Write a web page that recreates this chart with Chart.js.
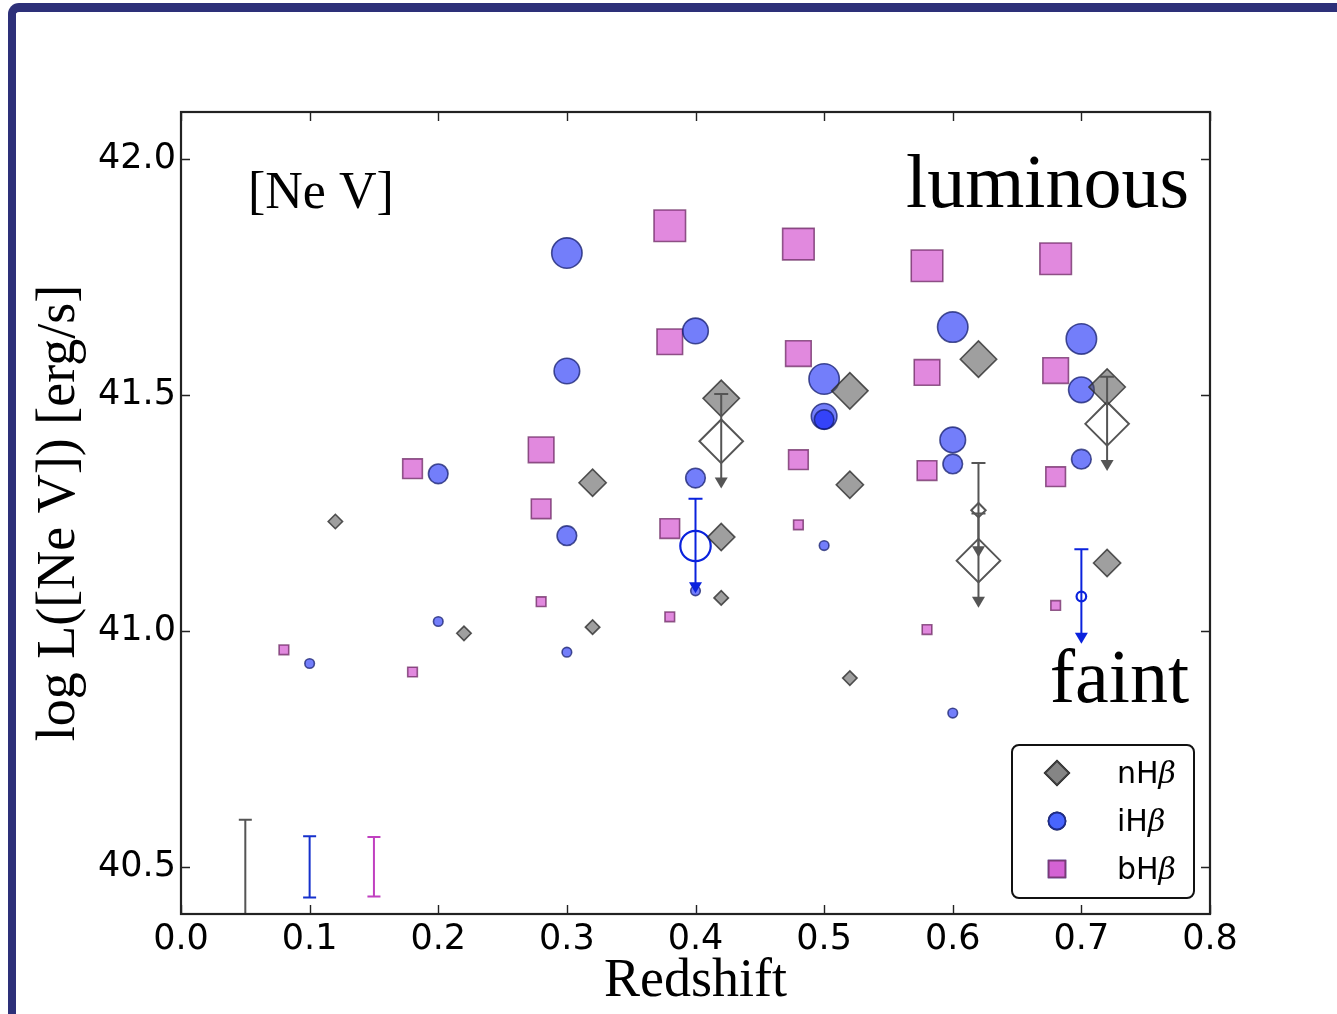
<!DOCTYPE html>
<html>
<head>
<meta charset="utf-8">
<title>[Ne V] luminosity vs redshift</title>
<script src="https://cdn.jsdelivr.net/npm/chart.js@4.4.1/dist/chart.umd.min.js"></script>
<style>
  html, body { margin: 0; padding: 0; background: #fff; overflow: hidden; }
  #frame {
    position: absolute; left: 8px; top: 3px; width: 1400px; height: 1100px;
    border-left: 8px solid #2d3079; border-top: 9px solid #2d3079;
    border-top-left-radius: 11px;
  }
  #chart { position: absolute; left: 0; top: 0; }
</style>
</head>
<body>
<div id="frame"></div>
<canvas id="chart" width="1337" height="1014"></canvas>
<script>
// values
const xTicks = [0.0, 0.1, 0.2, 0.3, 0.4, 0.5, 0.6, 0.7, 0.8];
const yTicks = [40.5, 41.0, 41.5, 42.0];

// nHb, detections (class = marker size bin 1..4)
const nhbZ = [0.12, 0.22, 0.32, 0.32, 0.42, 0.42, 0.42, 0.52, 0.52, 0.52, 0.62, 0.72, 0.72];
const nhbL = [41.232, 40.995, 41.314, 41.008, 41.493, 41.199, 41.07, 41.509, 41.31, 40.90, 41.576, 41.517, 41.144];
const nhbClass = [1, 1, 2, 1, 3, 2, 1, 3, 2, 1, 3, 3, 2];
// nHb, upper limits
const nhbLimZ = [0.42, 0.62, 0.62, 0.72];
const nhbLimL = [41.402, 41.149, 41.256, 41.439];
const nhbLimClass = [4, 4, 1, 4];

// iHb, detections
const ihbZ = [0.1, 0.2, 0.2, 0.3, 0.3, 0.3, 0.3, 0.4, 0.4, 0.4, 0.5, 0.5, 0.5, 0.5, 0.6, 0.6, 0.6, 0.6, 0.7, 0.7, 0.7];
const ihbL = [40.931, 41.333, 41.02, 41.801, 41.551, 41.202, 40.955, 41.636, 41.324, 41.085, 41.534, 41.455, 41.448, 41.181, 41.644, 41.405, 41.354, 40.826, 41.619, 41.511, 41.364];
const ihbClass = [1, 2, 1, 4, 3, 2, 1, 3, 2, 1, 4, 3, 2, 1, 4, 3, 2, 1, 4, 3, 2];
// iHb, upper limits
const ihbLimZ = [0.4, 0.7];
const ihbLimL = [41.18, 41.073];
const ihbLimClass = [4, 1];

// bHb, detections
const bhbZ = [0.08, 0.18, 0.18, 0.28, 0.28, 0.28, 0.38, 0.38, 0.38, 0.38, 0.48, 0.48, 0.48, 0.48, 0.58, 0.58, 0.58, 0.58, 0.68, 0.68, 0.68, 0.68];
const bhbL = [40.96, 41.344, 40.913, 41.384, 41.259, 41.062, 41.859, 41.613, 41.217, 41.03, 41.82, 41.588, 41.363, 41.225, 41.774, 41.548, 41.34, 41.003, 41.789, 41.552, 41.327, 41.054];
const bhbClass = [1, 2, 1, 3, 2, 1, 4, 3, 2, 1, 4, 3, 2, 1, 4, 3, 2, 1, 4, 3, 2, 1];

// typical errors shown bottom left (nHb, iHb, bHb)
const errZ = [0.05, 0.10, 0.15];
const errL = [40.40, 40.50, 40.50];
const errSize = [0.20, 0.065, 0.063];
const limitDrop = 0.1; // dex, length of the upper-limit bars

// marker radii per size class
const CIRCLE_R = [0, 4.8, 9.8, 12.8, 15.2];
const DIAMOND_R = [0, 7.2, 13.6, 18.2, 21.8];
const SQUARE_R = [0, 6.8, 13.9, 18.1, 22.3];

const toPoints = (xs, ys) => xs.map((x, i) => ({ x: x, y: ys[i] }));
const sized = (map, cls) => c => map[cls[c.dataIndex]];

const datasets = [
  {
    label: 'nH\u03b2', data: toPoints(nhbZ, nhbL),
    pointStyle: 'rectRot', pointRadius: sized(DIAMOND_R, nhbClass),
    backgroundColor: 'rgba(80,80,80,0.55)', borderColor: 'rgba(45,45,45,0.8)', borderWidth: 1.6,
    legendFill: '#858585', legendStroke: '#3d3d3d'
  },
  {
    label: 'iH\u03b2', data: toPoints(ihbZ, ihbL),
    pointStyle: 'circle', pointRadius: sized(CIRCLE_R, ihbClass),
    backgroundColor: 'rgba(0,20,245,0.55)', borderColor: 'rgba(20,30,110,0.75)', borderWidth: 1.6,
    legendFill: '#4865ff', legendStroke: '#1d2b8a'
  },
  {
    label: 'bH\u03b2', data: toPoints(bhbZ, bhbL),
    pointStyle: 'rect', pointRadius: sized(SQUARE_R, bhbClass),
    backgroundColor: 'rgba(200,40,195,0.55)', borderColor: 'rgba(100,30,90,0.7)', borderWidth: 1.6,
    legendFill: '#d462d4', legendStroke: '#7a3a78'
  },
  {
    label: 'nHb limits', data: toPoints(nhbLimZ, nhbLimL), upperLimit: true,
    pointStyle: 'rectRot', pointRadius: sized(DIAMOND_R, nhbLimClass),
    backgroundColor: 'rgba(0,0,0,0)', borderColor: '#555555', borderWidth: 2,
    barColor: '#555555'
  },
  {
    label: 'iHb limits', data: toPoints(ihbLimZ, ihbLimL), upperLimit: true,
    pointStyle: 'circle', pointRadius: sized(CIRCLE_R, ihbLimClass),
    backgroundColor: 'rgba(0,0,0,0)', borderColor: '#0a22dd', borderWidth: 2.2,
    barColor: '#0a22dd'
  },
  {
    label: 'typical errors', data: toPoints(errZ, errL), errors: errSize,
    pointRadius: 0, barColors: ['#555555', '#1530cc', '#c040c0']
  }
];

// error bars, upper-limit arrows
const errorBars = {
  id: 'errorBars',
  afterDatasetsDraw(chart) {
    const { ctx, chartArea: a, scales: { x, y } } = chart;
    ctx.save();
    ctx.beginPath();
    ctx.rect(a.left, a.top, a.right - a.left, a.bottom - a.top);
    ctx.clip();
    chart.data.datasets.forEach(ds => {
      if (ds.upperLimit) {
        ctx.strokeStyle = ds.barColor;
        ctx.fillStyle = ds.barColor;
        ctx.lineWidth = 2;
        ds.data.forEach(p => {
          const px = x.getPixelForValue(p.x);
          const top = y.getPixelForValue(p.y + limitDrop);
          const tip = y.getPixelForValue(p.y - limitDrop);
          ctx.beginPath();
          ctx.moveTo(px, top); ctx.lineTo(px, tip - 8);
          ctx.moveTo(px - 7, top); ctx.lineTo(px + 7, top);
          ctx.stroke();
          ctx.beginPath();
          ctx.moveTo(px - 6.5, tip - 11); ctx.lineTo(px + 6.5, tip - 11); ctx.lineTo(px, tip);
          ctx.closePath();
          ctx.fill();
        });
      } else if (ds.errors) {
        ctx.lineWidth = 2;
        ds.data.forEach((p, i) => {
          const px = x.getPixelForValue(p.x);
          const hi = y.getPixelForValue(p.y + ds.errors[i]);
          const lo = y.getPixelForValue(p.y - ds.errors[i]);
          ctx.strokeStyle = ds.barColors[i];
          ctx.beginPath();
          ctx.moveTo(px, hi); ctx.lineTo(px, lo);
          ctx.moveTo(px - 6.5, hi); ctx.lineTo(px + 6.5, hi);
          ctx.moveTo(px - 6.5, lo); ctx.lineTo(px + 6.5, lo);
          ctx.stroke();
        });
      }
    });
    ctx.restore();
  }
};

// box, inward ticks on all four sides, text labels, boxed legend
const decorations = {
  id: 'decorations',
  afterDraw(chart) {
    const { ctx, chartArea: a, scales: { x, y } } = chart;
    ctx.save();
    ctx.strokeStyle = '#222';
    ctx.lineWidth = 1.4;
    ctx.beginPath();
    x.ticks.forEach(t => {
      const px = Math.round(x.getPixelForValue(t.value)) + 0.5;
      ctx.moveTo(px, a.bottom); ctx.lineTo(px, a.bottom - 9);
      ctx.moveTo(px, a.top); ctx.lineTo(px, a.top + 9);
    });
    y.ticks.forEach(t => {
      const py = Math.round(y.getPixelForValue(t.value)) + 0.5;
      ctx.moveTo(a.left, py); ctx.lineTo(a.left + 9, py);
      ctx.moveTo(a.right, py); ctx.lineTo(a.right - 9, py);
    });
    ctx.stroke();
    ctx.lineWidth = 2.2;
    ctx.strokeRect(a.left, a.top, a.right - a.left, a.bottom - a.top);

    // annotations
    ctx.fillStyle = '#000';
    ctx.textBaseline = 'alphabetic';
    ctx.font = '52px "Liberation Serif"';
    ctx.textAlign = 'left';
    ctx.fillText('[Ne V]', a.left + 67, a.top + 96);
    ctx.font = '76px "Liberation Serif"';
    ctx.textAlign = 'right';
    ctx.fillText('luminous', a.right - 21, a.top + 95);
    ctx.fillText('faint', a.right - 21, a.top + 590);

    // legend
    const bx = a.right - 198, by = a.bottom - 169, bw = 182, bh = 153;
    ctx.fillStyle = '#fff';
    ctx.strokeStyle = '#111';
    ctx.lineWidth = 2;
    ctx.beginPath();
    ctx.roundRect(bx, by, bw, bh, 7);
    ctx.fill();
    ctx.stroke();
    const legendR = { rectRot: 12, circle: 8.5, rect: 11.8 };
    chart.data.datasets.slice(0, 3).forEach((ds, i) => {
      const cy = by + 28 + i * 48;
      const cx = bx + 45;
      Chart.helpers.drawPoint(ctx, {
        pointStyle: ds.pointStyle, radius: legendR[ds.pointStyle], rotation: 0, borderWidth: 1.8
      }, cx, cy);
      ctx.fillStyle = ds.legendFill;
      ctx.strokeStyle = ds.legendStroke;
      ctx.lineWidth = 1.8;
      ctx.fill();
      ctx.stroke();
      const main = ds.label.slice(0, -1);
      ctx.fillStyle = '#000';
      ctx.textAlign = 'left';
      ctx.font = '30px "DejaVu Sans"';
      ctx.fillText(main, bx + 105, cy + 10);
      const w = ctx.measureText(main).width;
      ctx.font = 'italic 30px "DejaVu Serif"';
      ctx.fillText('\u03b2', bx + 105 + w, cy + 10);
    });
    ctx.restore();
  }
};

new Chart(document.getElementById('chart'), {
  type: 'scatter',
  data: { datasets: datasets },
  options: {
    responsive: false,
    devicePixelRatio: 1,
    animation: false,
    events: [],
    layout: { padding: { top: 112, right: 127, left: 0, bottom: 0 } },
    plugins: { legend: { display: false }, tooltip: { enabled: false } },
    scales: {
      x: {
        type: 'linear', min: 0, max: 0.8,
        afterBuildTicks: s => { s.ticks = xTicks.map(v => ({ value: v })); },
        afterFit: s => { s.height = 100; },
        grid: { display: false, drawTicks: false },
        border: { display: false },
        ticks: {
          callback: v => v.toFixed(1), autoSkip: false, maxRotation: 0,
          font: { family: 'DejaVu Sans', size: 35 }, color: '#000', padding: 5
        },
        title: {
          display: true, text: 'Redshift', color: '#000',
          font: { family: 'Liberation Serif', size: 54 }, padding: { top: 0, bottom: 0 }
        }
      },
      y: {
        type: 'linear', min: 40.4, max: 42.1,
        afterBuildTicks: s => { s.ticks = yTicks.map(v => ({ value: v })); },
        afterFit: s => { s.width = 181; },
        grid: { display: false, drawTicks: false },
        border: { display: false },
        ticks: {
          callback: v => v.toFixed(1),
          font: { family: 'DejaVu Sans', size: 35 }, color: '#000', padding: 5
        },
        title: {
          display: true, text: 'log L([Ne V]) [erg/s]', color: '#000',
          font: { family: 'Liberation Serif', size: 54 }, padding: { top: 27, bottom: 0 }
        }
      }
    }
  },
  plugins: [errorBars, decorations]
});
</script>
</body>
</html>
